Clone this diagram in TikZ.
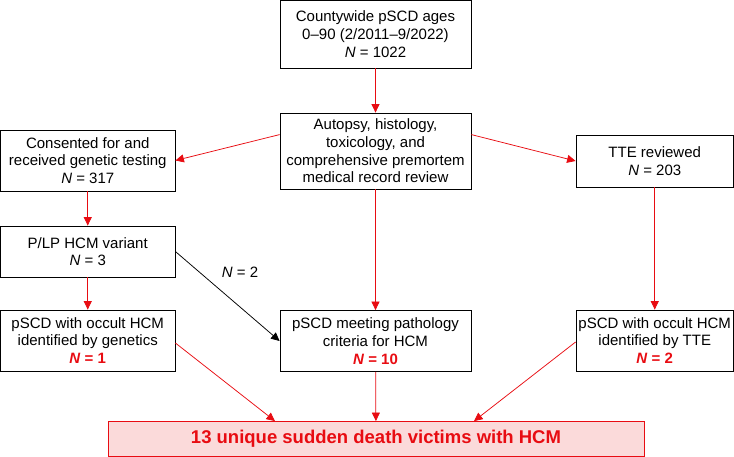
\documentclass[tikz,border=0pt]{standalone}
\usepackage{fontspec}
\setmainfont{Liberation Sans}
\usetikzlibrary{arrows.meta}
\definecolor{flowred}{RGB}{232,12,18}
\definecolor{flowpink}{RGB}{251,218,218}

\begin{document}
\begin{tikzpicture}[x=1pt,y=1pt,line width=0.8pt,>={Triangle[length=8.5pt,width=8pt]},
  box/.style={draw,align=center,inner sep=1pt,font=\fontsize{15}{17.7}\selectfont},
  redarr/.style={->,flowred,line width=0.75pt}]
  \useasboundingbox (0,0) rectangle (734,-457);
  % cajas superiores
  \node[box,minimum width=191pt,minimum height=67.5pt] (top) at (375.5,-34.25)
    {Countywide pSCD ages\\0--90 (2/2011--9/2022)\\\textit{N} = 1022};
  \node[box,minimum width=191pt,minimum height=76pt] (autopsy) at (375.5,-151)
    {Autopsy, histology,\\toxicology, and\\comprehensive premortem\\medical record review};
  \node[box,minimum width=174.5pt,minimum height=61pt] (cons) at (87.75,-160.5)
    {Consented for and\\received genetic testing\\\textit{N} = 317};
  \node[box,minimum width=157.5pt,minimum height=52pt] (tte) at (654.75,-161)
    {TTE reviewed\\\textit{N} = 203};
  % cajas intermedias
  \node[box,minimum width=174.5pt,minimum height=51pt] (plp) at (87.75,-251.5)
    {P/LP HCM variant\\\textit{N} = 3};
  \node[box,minimum width=174.5pt,minimum height=61pt] (gen) at (87.75,-340.5)
    {pSCD with occult HCM\\identified by genetics\\\textcolor{flowred}{\textbf{\textit{N} = 1}}};
  \node[box,minimum width=191pt,minimum height=61pt] (path) at (375.5,-341)
    {pSCD meeting pathology\\criteria for HCM\\\textcolor{flowred}{\textbf{\textit{N} = 10}}};
  \node[box,minimum width=157.5pt,minimum height=61pt] (ttehcm) at (654.75,-340.5)
    {pSCD with occult HCM\\identified by TTE\\\textcolor{flowred}{\textbf{\textit{N} = 2}}};
  % resultado
  \node[draw=flowred,fill=flowpink,minimum width=536pt,minimum height=35pt,
    font=\fontsize{18.5}{21}\selectfont\bfseries,text=flowred] (final) at (376,-439)
    {13 unique sudden death victims with HCM};
  % flechas
  \draw[redarr] (top) -- (autopsy);
  \draw[redarr] ([yshift=-22pt]autopsy.north west) -- (cons.east);
  \draw[redarr] ([yshift=-22pt]autopsy.north east) -- (tte.west);
  \draw[redarr] (cons) -- (plp);
  \draw[redarr] (plp) -- (gen);
  \draw[redarr] (autopsy) -- (path);
  \draw[redarr] (tte) -- (ttehcm);
  \draw[->,line width=0.75pt] (plp.east) -- (path.west);
  \node[font=\fontsize{15}{17.7}\selectfont] (ntwo) at (240,-272) {\textit{N} = 2};
  \draw[redarr] ([yshift=-2.5pt]gen.east) -- ([xshift=-101pt]final.north);
  \draw[redarr] (path) -- (final);
  \draw[redarr] ([yshift=-1.5pt]ttehcm.west) -- ([xshift=98pt]final.north);
\end{tikzpicture}
\end{document}
